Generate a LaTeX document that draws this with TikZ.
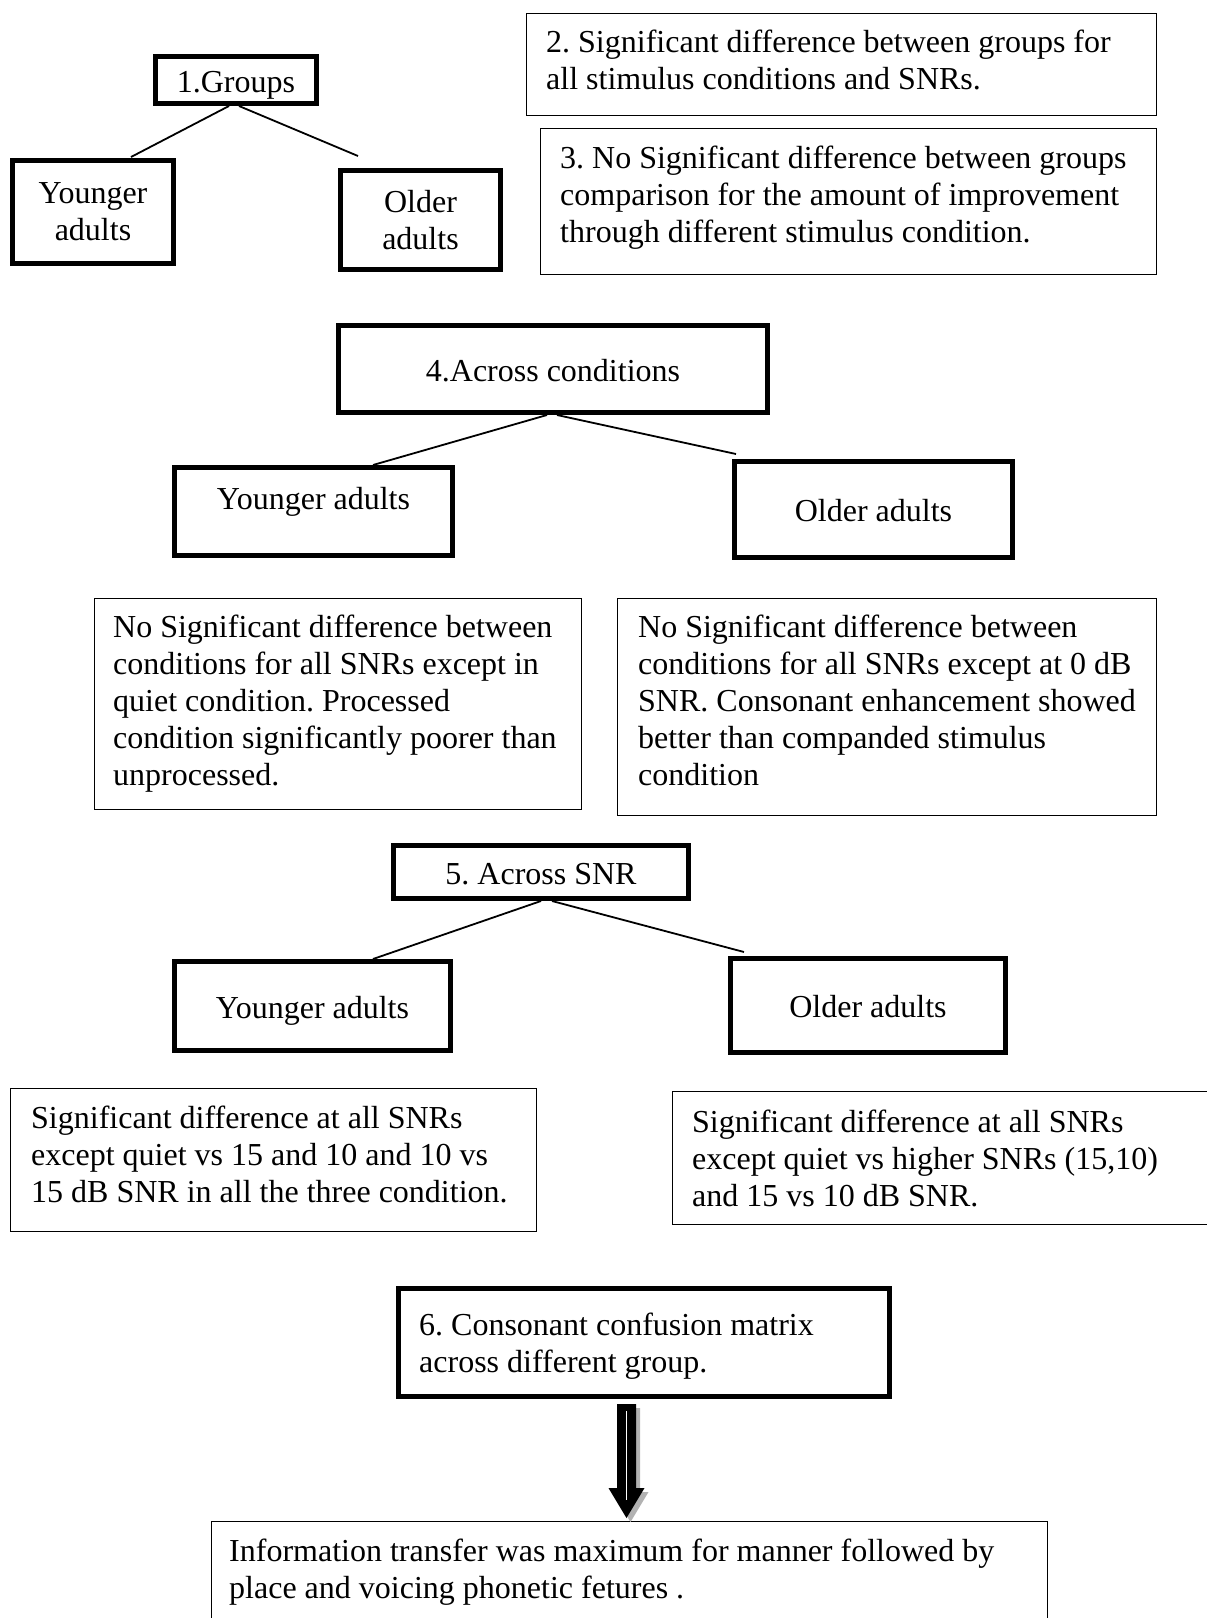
\documentclass[tikz,border=0pt]{standalone}
\usepackage{fontspec}
\setmainfont{Liberation Serif}
\begin{document}
\frenchspacing
\begin{tikzpicture}[x=1pt,y=-1pt,
  font=\fontsize{32}{37}\selectfont,
  thick box/.style={draw, line width=5pt, inner sep=0pt, align=center},
  one line/.style={text height=24pt, text depth=0pt},
  thin box/.style={draw, line width=1.3pt, inner sep=0pt},
  txt/.style={anchor=north west, inner sep=0pt, align=left},
  link/.style={line width=1.8pt}]
\useasboundingbox (0,0) rectangle (1207,1618);

% ---- section 1-3
\node[thick box, one line, minimum width=161pt, minimum height=47pt] (g1) at (236,80) {1.Groups};
\node[thick box, minimum width=161pt, minimum height=103pt] (ya1) at (93,212) {Younger\\adults};
\node[thick box, minimum width=160pt, minimum height=99pt] (oa1) at (420.5,220) {Older\\adults};
\coordinate (e1l) at (131,157);
\coordinate (e1r) at (358,156);
\draw[link] ([xshift=-7pt]g1.south) -- (e1l);
\draw[link] ([xshift=3pt]g1.south) -- (e1r);

\node[thin box, minimum width=630pt, minimum height=102pt] (b2) at (841.5,64.5) {};
\node[txt] (t2) at (546,26) {\strut 2. Significant difference between groups for\\all stimulus conditions and SNRs.};

\node[thin box, minimum width=616pt, minimum height=146pt] (b3) at (848.5,201.5) {};
\node[txt] (t3) at (560,142) {\strut 3. No Significant difference between groups\\comparison for the amount of improvement\\through different stimulus condition.};

% ---- section 4
\node[thick box, one line, minimum width=429pt, minimum height=87pt] (c4) at (553,369) {4.Across conditions};
\node[thick box, minimum width=278pt, minimum height=88pt, text height=22pt, text depth=27pt] (ya4) at (313.5,511.5) {Younger adults};
\node[thick box, one line, minimum width=278pt, minimum height=96pt] (oa4) at (873.5,509.5) {Older adults};
\coordinate (e4l) at (373,465);
\coordinate (e4r) at (736,454);
\draw[link] ([xshift=-6pt]c4.south) -- (e4l);
\draw[link] ([xshift=4pt]c4.south) -- (e4r);

\node[thin box, minimum width=487pt, minimum height=211pt] (n4l) at (338,704) {};
\node[txt] (t4l) at (113,611) {\strut No Significant difference between\\conditions for all SNRs except in\\quiet condition. Processed\\condition significantly poorer than\\unprocessed.};

\node[thin box, minimum width=539pt, minimum height=217pt] (n4r) at (887,707) {};
\node[txt] (t4r) at (638,611) {\strut No Significant difference between\\conditions for all SNRs except at 0 dB\\SNR. Consonant enhancement showed\\better than companded stimulus\\condition};

% ---- section 5
\node[thick box, one line, minimum width=295pt, minimum height=53pt] (s5) at (541,872) {5. Across SNR};
\node[thick box, one line, minimum width=276pt, minimum height=89pt] (ya5) at (312.5,1006) {Younger adults};
\node[thick box, one line, minimum width=275pt, minimum height=94pt] (oa5) at (868,1005.5) {Older adults};
\coordinate (e5l) at (373,959);
\coordinate (e5r) at (744,952);
\draw[link] ([xshift=0pt]s5.south) -- (e5l);
\draw[link] ([xshift=11pt]s5.south) -- (e5r);

\node[thin box, minimum width=526pt, minimum height=143pt] (n5l) at (273.5,1160) {};
\node[txt] (t5l) at (31,1102) {\strut Significant difference at all SNRs\\except quiet vs 15 and 10 and 10 vs\\15 dB SNR in all the three condition.};

\node[thin box, minimum width=557pt, minimum height=133pt] (n5r) at (951,1158) {};
\node[txt] (t5r) at (692,1106) {\strut Significant difference at all SNRs\\except quiet vs higher SNRs (15,10)\\and 15 vs 10 dB SNR.};

% ---- section 6
\node[thick box, minimum width=491pt, minimum height=108pt] (b6) at (644,1342.5) {};
\node[txt] (t6) at (419,1309) {\strut 6. Consonant confusion matrix\\across different group.};

\node[thin box, minimum width=836pt, minimum height=118pt] (b7) at (629.5,1580.5) {};
\node[txt] (t7) at (229,1535) {\strut Information transfer was maximum for manner followed by\\place and voicing phonetic fetures .};

% block arrow
\fill[black!30] (621,1408) -- (640,1408) -- (640,1492) -- (648.5,1492) -- (630.5,1522) -- (612.5,1492) -- (621,1492) -- cycle;
\fill[black] (617,1404) -- (636,1404) -- (636,1488) -- (644.5,1488) -- (626.5,1518) -- (608.5,1488) -- (617,1488) -- cycle;
\draw[white, line width=1.5pt] (626.5,1411) -- (626.5,1500);
\end{tikzpicture}
\end{document}
